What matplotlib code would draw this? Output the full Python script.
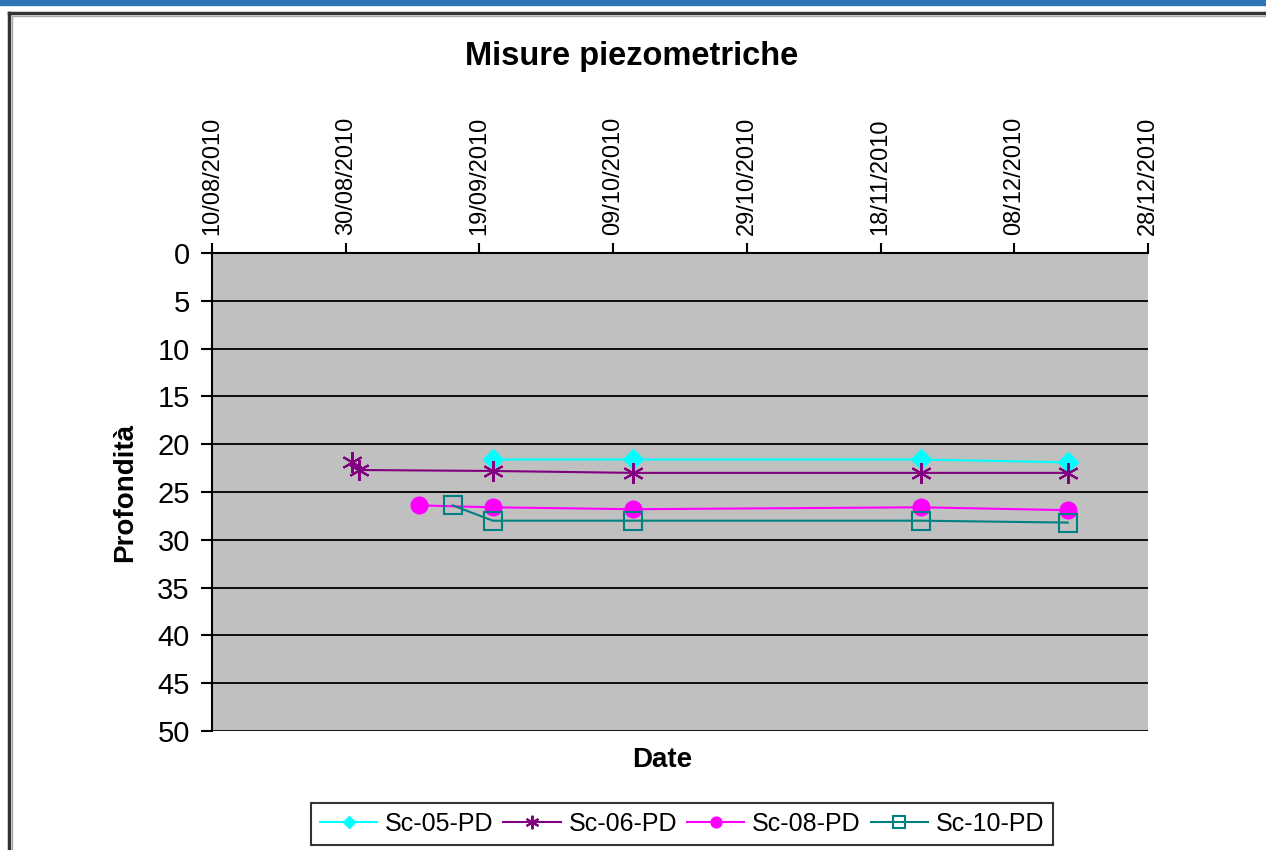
import numpy as np
import pandas as pd
import matplotlib
matplotlib.use("Agg")
import matplotlib.pyplot as plt
import matplotlib.dates as mdates
from matplotlib import font_manager
from matplotlib.lines import Line2D
from matplotlib.patches import Rectangle

# dati
s05_date = ["2010-09-21", "2010-10-12", "2010-11-24", "2010-12-16"]
s05_prof = [21.6, 21.6, 21.6, 21.9]

s06_date = ["2010-08-31", "2010-09-01", "2010-09-21", "2010-10-12", "2010-11-24", "2010-12-16"]
s06_prof = [21.9, 22.7, 22.8, 23.0, 23.0, 23.0]

s08_date = ["2010-09-10", "2010-09-21", "2010-10-12", "2010-11-24", "2010-12-16"]
s08_prof = [26.4, 26.6, 26.8, 26.6, 26.9]

s10_date = ["2010-09-15", "2010-09-21", "2010-10-12", "2010-11-24", "2010-12-16"]
s10_prof = [26.4, 28.0, 28.0, 28.0, 28.2]

tick_date = pd.date_range("2010-08-10", "2010-12-28", freq="20D")
tick_prof = np.arange(0, 55, 5)

names = {f.name for f in font_manager.fontManager.ttflist}
narrow = "Liberation Sans Narrow" if "Liberation Sans Narrow" in names else "Liberation Sans"
plt.rcParams["font.family"] = ["Liberation Sans", "DejaVu Sans"]

fig = plt.figure(figsize=(12.66, 8.5), dpi=100)
ax = fig.add_axes([212/1266, 1-731/850, (1148-212)/1266, (731-253)/850])
ax.set_facecolor("#C0C0C0")

ax.plot(pd.to_datetime(s05_date), s05_prof, color="#00FFFF", lw=1.5, marker="D", ms=10, label="Sc-05-PD")
ax.plot(pd.to_datetime(s06_date), s06_prof, color="#800080", lw=1.5, marker=(6, 2, 0), ms=15, mew=1.5, label="Sc-06-PD")
ax.plot(pd.to_datetime(s08_date), s08_prof, color="#FF00FF", lw=1.5, marker="o", ms=12, label="Sc-08-PD")
ax.plot(pd.to_datetime(s10_date), s10_prof, color="#008080", lw=1.5, marker="s", ms=13, mfc="none", mew=1.5, label="Sc-10-PD")

ax.set_xlim(tick_date[0], tick_date[-1])
ax.set_ylim(50, 0)
ax.set_yticks(tick_prof)
ax.set_xticks(tick_date)
ax.xaxis.set_major_formatter(mdates.DateFormatter("%d/%m/%Y"))
ax.xaxis.tick_top()
ax.tick_params(axis="x", direction="out", length=7, width=1.5, rotation=90, labelsize=17, pad=6)
ax.tick_params(axis="y", direction="out", length=8, width=1.5, labelsize=21, pad=8)
for lab in ax.get_xticklabels():
    lab.set_family(narrow)
ax.grid(axis="y", color="black", lw=1.3)
for s in ["right", "bottom"]:
    ax.spines[s].set_visible(False)
ax.spines["left"].set_linewidth(1.5)
ax.spines["top"].set_linewidth(1.5)

ax.set_ylabel("Profondità", fontsize=20, fontweight="bold", labelpad=14)
fig.text(662/1266, 1-760/850, "Date", fontsize=20, fontweight="bold", ha="center", va="center")
fig.text(632/1266, 1-57/850, "Misure piezometriche", fontsize=23.5, fontweight="bold", ha="center", va="center")

leg = fig.legend(loc="center", bbox_to_anchor=(682/1266, 1-824/850), ncol=4, frameon=True,
                 fancybox=False, edgecolor="black", prop={"family": narrow, "size": 18},
                 handlelength=2.3, handletextpad=0.3, columnspacing=0.4, borderpad=0.35, markerscale=0.65)
leg.get_frame().set_linewidth(1.5)

# cornice del foglio
fig.patches.append(Rectangle((0, 1-5/850), 1, 5/850, transform=fig.transFigure, color="#2E75B6", zorder=0))
fig.lines.append(Line2D([9/1266, 9/1266], [0, 1-13/850], transform=fig.transFigure, color="#333333", lw=2.5))
fig.lines.append(Line2D([9/1266, 1], [1-13/850, 1-13/850], transform=fig.transFigure, color="#333333", lw=2.5))
fig.lines.append(Line2D([12/1266, 12/1266], [0, 1-16/850], transform=fig.transFigure, color="#AAAAAA", lw=1))
fig.lines.append(Line2D([12/1266, 1], [1-16/850, 1-16/850], transform=fig.transFigure, color="#AAAAAA", lw=1))

fig.savefig("out.png", dpi=100)
